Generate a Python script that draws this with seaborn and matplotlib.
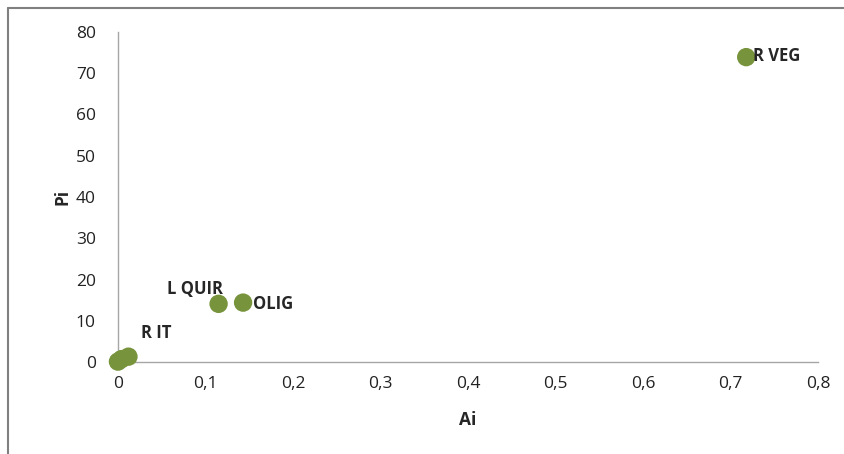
import matplotlib
matplotlib.use("Agg")
import matplotlib.pyplot as plt
import seaborn as sns
import pandas as pd
from matplotlib.lines import Line2D

# data
names = ["R VEG", "L QUIR", "OLIG", "R IT", "", ""]
ai = [0.718, 0.115, 0.143, 0.012, 0.004, 0.0]
pi = [73.9, 14.1, 14.4, 1.3, 0.7, 0.1]

df = pd.DataFrame({"name": names, "Ai": ai, "Pi": pi})

sns.set_style("white")
plt.rcParams["font.family"] = ["Open Sans", "DejaVu Sans"]

fig = plt.figure(figsize=(8.45, 4.54), dpi=100)
ax = fig.add_axes([0.1396, 0.2026, 0.8284, 0.727])

sns.scatterplot(data=df, x="Ai", y="Pi", color="#77933C", s=175,
                edgecolor="none", ax=ax, legend=False, clip_on=False, zorder=3)

# point labels
offsets = {"R VEG": (5, 1, "left"), "L QUIR": (-37, 11, "left"),
           "OLIG": (7, -1, "left"), "R IT": (9, 17, "left")}
for n, x, y in zip(names, ai, pi):
    if n in offsets:
        dx, dy, ha = offsets[n]
        ax.annotate(n, (x, y), xytext=(dx, dy), textcoords="offset points",
                    ha=ha, va="center", fontsize=12, fontweight="bold")

ax.set_xlim(0, 0.8)
ax.set_ylim(0, 80)
ax.set_xticks([i / 10 for i in range(9)])
ax.set_xticklabels(["0"] + [f"0,{i}" for i in range(1, 9)])
ax.set_yticks(range(0, 81, 10))
ax.tick_params(axis="both", length=0, labelsize=12.5, pad=10, labelcolor="#222222")
ax.tick_params(axis="y", pad=16)

for s in ["top", "right"]:
    ax.spines[s].set_visible(False)
for s in ["left", "bottom"]:
    ax.spines[s].set_color("#A6A6A6")
    ax.spines[s].set_linewidth(1)

ax.set_xlabel("Ai", fontsize=12.5, fontweight="bold", labelpad=14)
ax.set_ylabel("Pi", fontsize=12.5, fontweight="bold", labelpad=3)

# chart frame (partly cropped)
fig.add_artist(Line2D([8 / 845, 8 / 845], [0, 1 - 8 / 454], color="#808080", lw=1.5))
fig.add_artist(Line2D([8 / 845, 1], [1 - 8 / 454, 1 - 8 / 454], color="#808080", lw=1.5))

fig.savefig("out.png", dpi=100)
